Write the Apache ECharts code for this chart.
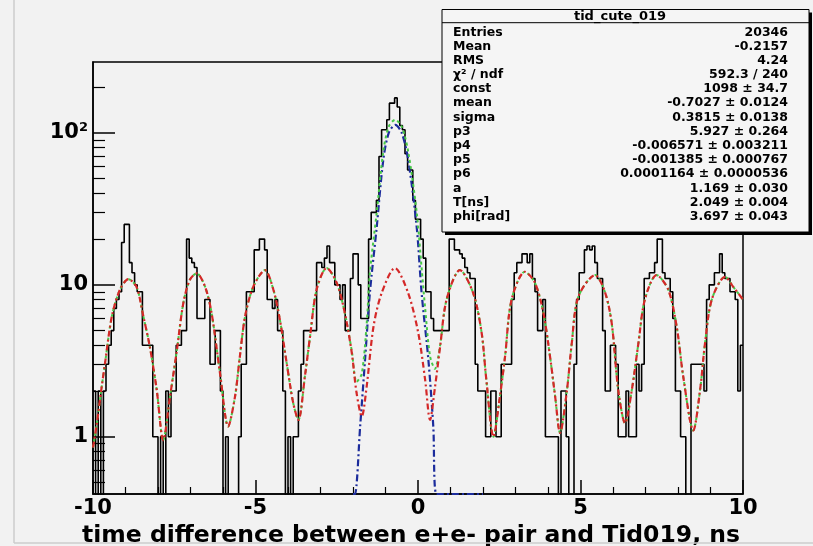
<!DOCTYPE html>
<html><head><meta charset="utf-8">
<script src="https://cdn.jsdelivr.net/npm/echarts@6/dist/echarts.min.js"></script>
<style>html,body{margin:0;padding:0;background:#f2f2f2;}#c{width:813px;height:546px;}</style>
</head><body><div id="c"></div>
<script>
// ---------------- data ----------------
const xMin = -10, xMax = 10, nBins = 250;
const counts = [
  2,0,2,0,2, 3,4,5,7,8, 9,19,25,25,14, 12,10,9,9,4, 4,4,4,1,1, 0,1,0,2,1, 2,2,4,4,5, 5,20,15,14,13, 6,6,6,8,8, 3,3,5,5,2,
  0,1,0,0,0, 0,1,3,3,9, 9,9,17,17,20, 20,17,8,8,7, 8,5,5,2,0, 1,0,1,1,2, 3,5,5,5,5, 5,14,14,13,15, 18,14,14,10,10, 8,10,5,5,11,
  16,16,10,6,6, 6,20,30,30,36, 70,105,105,122,157, 157,170,148,112,105, 73,57,57,36,27, 27,20,15,9,9, 6,5,5,5,5, 5,5,20,20,17, 17,16,15,13,12, 11,11,3,2,2,
  2,1,1,2,2, 1,1,3,3,3, 3,8,12,14,14, 16,16,14,16,11, 9,5,5,8,1, 1,1,1,1,0, 2,2,1,0,0, 3,8,12,12,17, 18,17,18,14,11, 11,5,2,2,4,
  4,3,1,1,1, 2,1,1,1,3, 2,3,11,11,12, 12,14,20,20,12, 11,11,9,6,2, 2,1,1,0,0, 3,3,3,3,3, 2,8,10,10,12, 12,16,12,11,11, 9,9,8,2,4
];
// background (oscillation) fit curve
const bgX = [-10,-9.88,-9.75,-9.63,-9.42,-9.17,-8.91,-8.66,-8.45,-8.25,-8.04,-7.84,-7.63,-7.42,-7.22,-7.02,-6.81,-6.55,-6.35,-6.09,-5.84,-5.63,-5.48,-5.32,-5.07,-4.71,-4.45,-4.25,-4.04,-3.84,-3.68,-3.48,-3.32,-3.12,-2.81,-2.50,-2.25,-2.04,-1.89,-1.73,-1.58,-1.37,-1.12,-0.71,-0.30,0.01,0.22,0.37,0.52,0.68,0.88,1.29,1.70,1.96,2.10,2.32,2.52,2.68,2.88,3.29,3.60,3.86,4.06,4.22,4.37,4.58,4.73,4.93,5.45,5.75,5.96,6.16,6.37,6.58,6.78,6.98,7.34,7.70,7.96,8.16,8.47,8.68,8.83,9.04,9.45,9.70,10.0];
const bgY = [0.85,1.23,2.0,3.05,6.2,9.3,10.9,9.7,6.2,3.9,2.04,0.95,1.84,3.7,7.6,10.8,11.9,9.7,6.5,2.6,1.17,1.84,3.4,6.2,9.7,12.5,9.3,5.9,3.05,1.67,1.29,2.5,4.6,9.3,12.9,10.3,6.5,3.6,1.94,1.36,2.14,5.3,8.8,12.9,8.8,4.8,2.37,1.29,2.1,3.9,8.0,12.5,8.8,4.8,2.4,1.0,1.84,3.4,8.0,12.2,10.3,6.5,3.4,1.84,1.06,2.0,4.1,8.3,11.6,9.0,5.6,2.04,1.23,2.04,4.1,8.0,11.6,9.3,5.3,2.5,1.1,2.04,4.1,8.0,11.3,9.7,8.0];
// total fit curve
const totX = [-10,-9.88,-9.75,-9.63,-9.42,-9.17,-8.91,-8.66,-8.45,-8.25,-8.04,-7.84,-7.63,-7.42,-7.22,-7.02,-6.81,-6.55,-6.35,-6.09,-5.84,-5.63,-5.48,-5.32,-5.07,-4.71,-4.45,-4.25,-4.04,-3.84,-3.68,-3.48,-3.32,-3.12,-2.81,-2.50,-2.25,-2.04,-1.89,-1.73,-1.58,-1.48,-1.27,-1.07,-0.90,-0.70,-0.50,-0.30,-0.04,0.11,0.22,0.37,0.52,0.68,0.88,1.29,1.70,1.96,2.10,2.32,2.52,2.68,2.88,3.29,3.60,3.86,4.06,4.22,4.37,4.58,4.73,4.93,5.45,5.75,5.96,6.16,6.37,6.58,6.78,6.98,7.34,7.70,7.96,8.16,8.47,8.68,8.83,9.04,9.45,9.70,10.0];
const totY = [0.85,1.23,2.0,3.05,6.2,9.3,10.9,9.7,6.2,3.9,2.04,0.95,1.84,3.7,7.6,10.8,11.9,9.7,6.5,2.6,1.17,1.84,3.4,6.2,9.7,12.5,9.3,5.9,3.05,1.67,1.29,2.5,4.6,9.3,12.9,10.3,6.5,3.7,2.3,2.6,5.5,12,30,75,110,122,110,75,30,13,7,3.4,2.8,4.0,8.0,12.5,8.8,4.8,2.4,1.0,1.84,3.4,8.0,12.2,10.3,6.5,3.4,1.84,1.06,2.0,4.1,8.3,11.6,9.0,5.6,2.04,1.23,2.04,4.1,8.0,11.6,9.3,5.3,2.5,1.1,2.04,4.1,8.0,11.3,9.7,8.0];
// gaussian peak curve
const gaussX = [-2.0,-1.94,-1.78,-1.63,-1.48,-1.27,-1.07,-0.90,-0.70,-0.50,-0.30,-0.04,0.11,0.32,0.47,0.57,1.0,1.5,2.0];
const gaussY = [0.35,0.42,1.17,3.2,8.9,24,66,100,113,100,66,24,8.9,3.2,1.17,0.42,0.02,0.001,0.0001];

const yMin = 0.42, yMax = 293;
const yMinor = [0.5,0.6,0.7,0.8,0.9,2,3,4,5,6,7,8,9,20,30,40,50,60,70,80,90,200];
const xTitle = 'time difference between e+e- pair and Tid019, ns';
const statTitle = 'tid_cute_019';
const statNames = ['Entries','Mean','RMS','\u03C7\u00B2 / ndf','const','mean','sigma','p3','p4','p5','p6','a','T[ns]','phi[rad]'];
const statValues = ['20346','-0.2157','4.24','592.3 / 240','1098 \u00B1 34.7','-0.7027 \u00B1 0.0124','0.3815 \u00B1 0.0138','5.927 \u00B1 0.264','-0.006571 \u00B1 0.003211','-0.001385 \u00B1 0.000767','0.0001164 \u00B1 0.0000536','1.169 \u00B1 0.030','2.049 \u00B1 0.004','3.697 \u00B1 0.043'];

// ---------------- build ----------------
const FONT = '"DejaVu Sans", "Liberation Sans", sans-serif';
const bw = (xMax - xMin) / nBins;
const emptyFloor = 0.3; // empty bins are drawn down to the frame bottom
const histData = counts.map((c, i) => [xMin + i * bw, Math.max(c, emptyFloor)]);
histData.push([xMax, Math.max(counts[nBins - 1], emptyFloor)]);
const clampF = v => Math.max(v, yMin);
const pairs = (xs, ys) => xs.map((x, i) => [x, clampF(ys[i])]);

const graphics = [
  {type:'line', shape:{x1:14,y1:0,x2:14,y2:543}, style:{stroke:'#cdcdcd', lineWidth:1.5}, z:1},
  {type:'line', shape:{x1:14,y1:543,x2:813,y2:543}, style:{stroke:'#cdcdcd', lineWidth:1.5}, z:1},
  {type:'rect', shape:{x:445, y:12.5, width:367, height:222.5}, style:{fill:'#000'}, z:100},
  {type:'rect', shape:{x:442, y:9.5, width:367, height:222.5}, style:{fill:'#f5f5f5', stroke:'#000', lineWidth:1}, z:101},
  {type:'line', shape:{x1:442, y1:22.7, x2:809, y2:22.7}, style:{stroke:'#000', lineWidth:1}, z:102},
  {type:'text', x:620, y:16.3, style:{text:statTitle, fill:'#000', fontFamily:FONT, fontWeight:'bold', fontSize:13, align:'center', verticalAlign:'middle'}, z:102}
];
statNames.forEach((n, k) => {
  const y = 32.3 + 14.18 * k;
  graphics.push({type:'text', x:453, y:y, style:{text:n, fill:'#000', fontFamily:FONT, fontWeight:'bold', fontSize:12.5, align:'left', verticalAlign:'middle'}, z:102});
  graphics.push({type:'text', x:788, y:y, style:{text:statValues[k], fill:'#000', fontFamily:FONT, fontWeight:'bold', fontSize:12.5, align:'right', verticalAlign:'middle'}, z:102});
});

const chart = echarts.init(document.getElementById('c'), null, {renderer:'canvas'});
chart.setOption({
  animation:false,
  backgroundColor:'#f2f2f2',
  grid:{left:93, right:70, top:62, bottom:52, show:true, borderColor:'#000', borderWidth:1.5, backgroundColor:'transparent', containLabel:false, outerBoundsMode:'none'},
  xAxis:{
    type:'value', min:xMin, max:xMax, interval:5,
    axisLine:{show:true, onZero:false, lineStyle:{color:'#000', width:1.5}},
    axisTick:{show:true, inside:true, length:14, lineStyle:{color:'#000', width:1.5}},
    minorTick:{show:true, splitNumber:5, length:7, lineStyle:{color:'#000', width:1.2}},
    splitLine:{show:false}, minorSplitLine:{show:false},
    axisLabel:{margin:4, color:'#000', fontFamily:FONT, fontWeight:'bold', fontSize:21},
    name:xTitle, nameLocation:'middle', nameGap:11,
    nameTextStyle:{color:'#000', fontFamily:FONT, fontWeight:'bold', fontSize:23.5, padding:[0,14,0,0]}
  },
  yAxis:[{
    type:'log', logBase:10, min:yMin, max:yMax, position:'left',
    axisLine:{show:true, onZero:false, lineStyle:{color:'#000', width:1.5}},
    axisTick:{show:true, inside:true, length:22, lineStyle:{color:'#000', width:1.5}},
    minorTick:{show:false},
    splitLine:{show:false},
    axisLabel:{margin:5, showMinLabel:false, showMaxLabel:false, color:'#000',
      formatter: v => { const r = Math.round(v); return r >= 99 ? '{b|10}{s|2}' : '{b|' + r + '}'; },
      rich:{b:{fontFamily:FONT, fontWeight:'bold', fontSize:21, lineHeight:24, color:'#000'},
            s:{fontFamily:FONT, fontWeight:'bold', fontSize:13, color:'#000', verticalAlign:'top'}}}
  },{
    type:'log', logBase:10, min:yMin, max:yMax, position:'left',
    axisLine:{show:false, onZero:false}, splitLine:{show:false}, axisLabel:{show:false},
    axisTick:{show:true, inside:true, length:12, customValues:yMinor, lineStyle:{color:'#000', width:1.2}}
  }],
  graphic: graphics,
  series:[
    {type:'line', data:histData, step:'end', symbol:'none', showSymbol:false, clip:true,
     lineStyle:{color:'#000', width:1.6}, z:2, silent:true},
    {type:'line', data:pairs(gaussX, gaussY), smooth:0.3, symbol:'none', showSymbol:false, clip:true,
     lineStyle:{color:'#1c2c9c', width:2.2, type:[7,3,2,3]}, z:3, silent:true},
    {type:'line', data:pairs(totX, totY), smooth:0.3, symbol:'none', showSymbol:false, clip:true,
     lineStyle:{color:'#46c846', width:2, type:[3,3]}, z:4, silent:true},
    {type:'line', data:pairs(bgX, bgY), smooth:0.3, symbol:'none', showSymbol:false, clip:true,
     lineStyle:{color:'#d42828', width:2.2, type:[6,3,2,3]}, z:5, silent:true}
  ]
});
</script>
</body></html>
